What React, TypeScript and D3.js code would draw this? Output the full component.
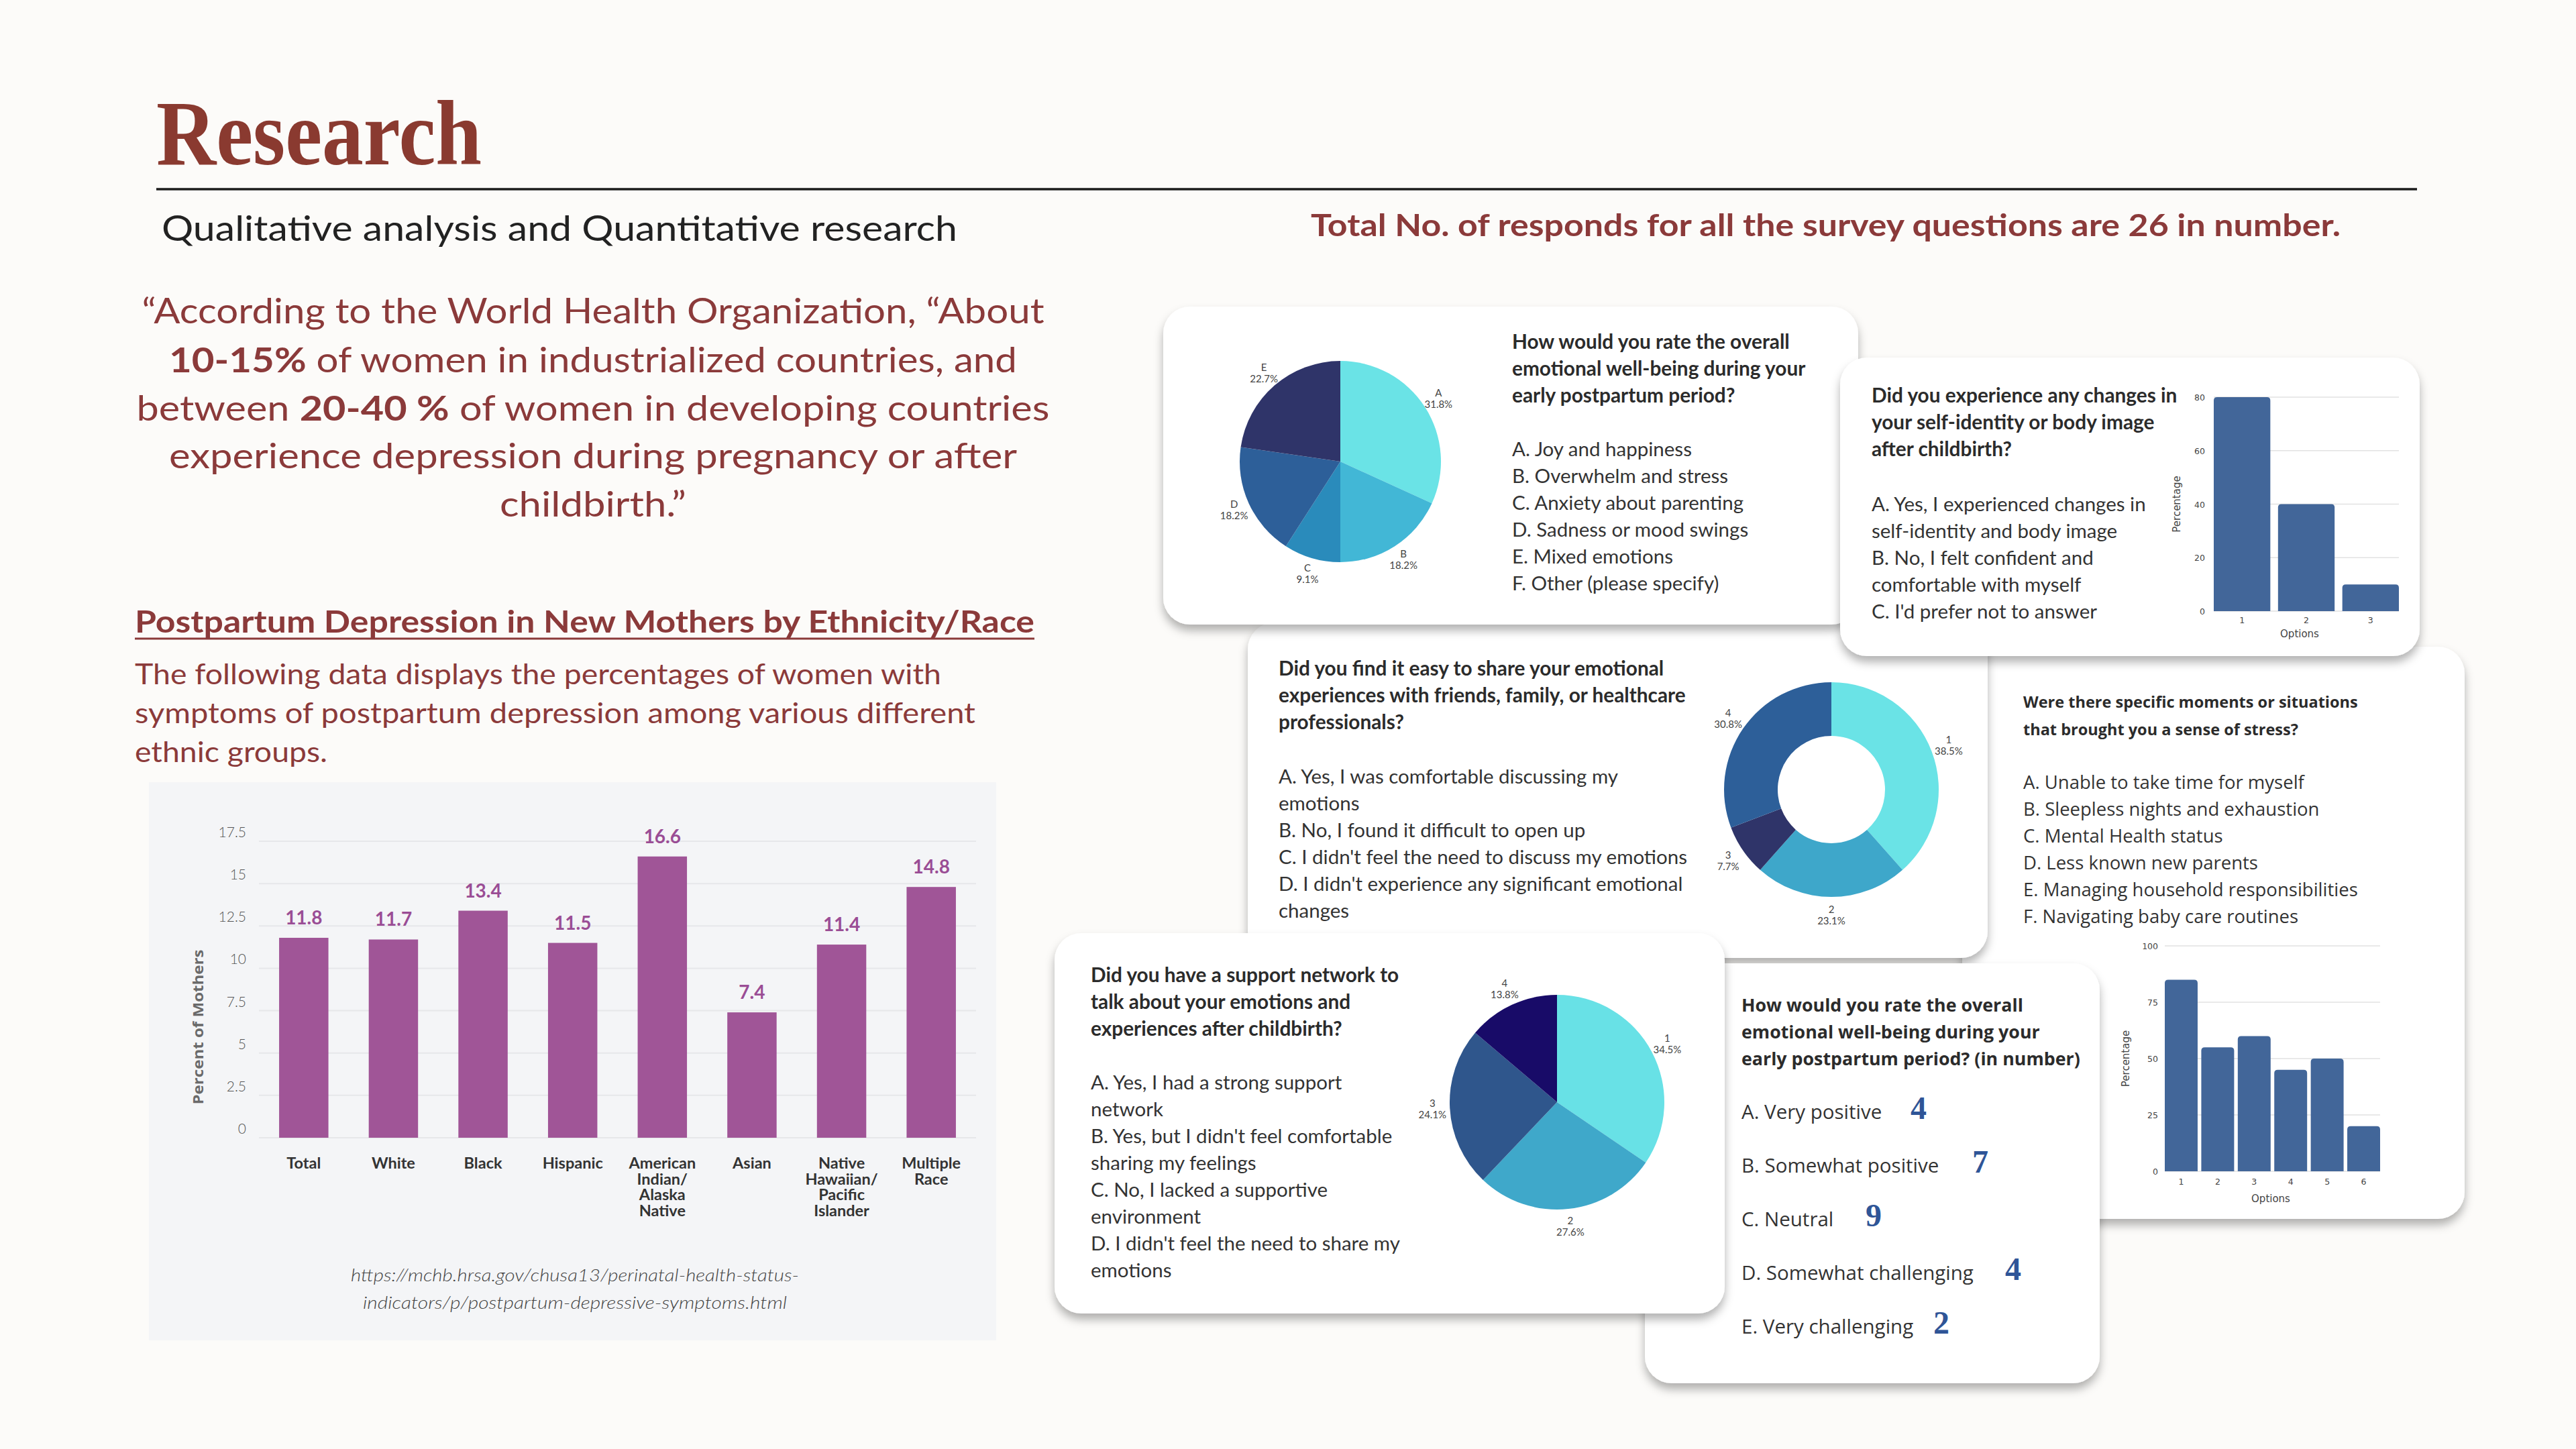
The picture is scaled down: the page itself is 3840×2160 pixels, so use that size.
import React from "react";
import * as d3 from "d3";

// ---------- Left bar chart data ----------
const ethnicityCategories = ["Total", "White", "Black", "Hispanic", "American Indian/Alaska Native", "Asian", "Native Hawaiian/Pacific Islander", "Multiple Race"];
const ethnicityLabelLines = [["Total"], ["White"], ["Black"], ["Hispanic"], ["American", "Indian/", "Alaska", "Native"], ["Asian"], ["Native", "Hawaiian/", "Pacific", "Islander"], ["Multiple", "Race"]];
const ethnicityValues = [11.8, 11.7, 13.4, 11.5, 16.6, 7.4, 11.4, 14.8];
const ethnicityTicks = [0, 2.5, 5, 7.5, 10, 12.5, 15, 17.5];

// ---------- Card 1: pie ----------
const wellbeingLabels = ["A", "B", "C", "D", "E"];
const wellbeingValues = [31.8, 18.2, 9.1, 18.2, 22.7];
const wellbeingColors = ["#6ae3e6", "#42b7d6", "#2a8bbb", "#2d5f99", "#2f3469"];
const wellbeingQuestion = ["How would you rate the overall", "emotional well-being during your", "early postpartum period?"];
const wellbeingOptions = ["A. Joy and happiness", "B. Overwhelm and stress", "C. Anxiety about parenting", "D. Sadness or mood swings", "E. Mixed emotions", "F. Other (please specify)"];

// ---------- Card 2: bar ----------
const identityOptions = ["1", "2", "3"];
const identityValues = [80, 40, 10];
const identityTicks = [0, 20, 40, 60, 80];
const identityQuestion = ["Did you experience any changes in", "your self-identity or body image", "after childbirth?"];
const identityAnswers = ["A. Yes, I experienced changes in", "self-identity and body image", "B. No, I felt confident and", "comfortable with myself", "C. I'd prefer not to answer"];

// ---------- Card 3: donut ----------
const shareLabels = ["1", "2", "3", "4"];
const shareValues = [38.5, 23.1, 7.7, 30.8];
const shareColors = ["#6ae3e6", "#3ea7ca", "#2f3469", "#2d5f99"];
const shareQuestion = ["Did you find it easy to share your emotional", "experiences with friends, family, or healthcare", "professionals?"];
const shareAnswers = ["A. Yes, I was comfortable discussing my", "emotions", "B. No, I found it difficult to open up", "C. I didn't feel the need to discuss my emotions", "D. I didn't experience any significant emotional", "changes"];

// ---------- Card 4: stress bars ----------
const stressOptions = ["1", "2", "3", "4", "5", "6"];
const stressValues = [85, 55, 60, 45, 50, 20];
const stressTicks = [0, 25, 50, 75, 100];
const stressQuestion = ["Were there specific moments or situations", "that brought you a sense of stress?"];
const stressAnswers = ["A. Unable to take time for myself", "B. Sleepless nights and exhaustion", "C. Mental Health status", "D. Less known new parents", "E. Managing household responsibilities", "F. Navigating baby care routines"];

// ---------- Card 5: support pie ----------
const supportLabels = ["1", "2", "3", "4"];
const supportValues = [34.5, 27.6, 24.1, 13.8];
const supportColors = ["#68e1e6", "#3fa8ca", "#2f568c", "#180b68"];
const supportQuestion = ["Did you have a support network to", "talk about your emotions and", "experiences after childbirth?"];
const supportAnswers = ["A. Yes, I had a strong support", "network", "B. Yes, but I didn't feel comfortable", "sharing my feelings", "C. No, I lacked a supportive", "environment", "D. I didn't feel the need to share my", "emotions"];

// ---------- Card 6: counts ----------
const ratingQuestion = ["How would you rate the overall", "emotional well-being during your", "early postpartum period? (in number)"];
const ratingOptions = ["A. Very positive", "B. Somewhat positive", "C. Neutral", "D. Somewhat challenging", "E. Very challenging"];
const ratingCounts = [4, 7, 9, 4, 2];
const ratingNumberOffsets = [252, 344, 185, 393, 286];

const BROWN = "#8b3a3a";
const CARD_FONT = "Lato, 'Open Sans', sans-serif";
const WIDE_FONT = "'Open Sans', 'Noto Sans', sans-serif";
const CHART_FONT = "'DejaVu Sans', Verdana, sans-serif";
const Q_SIZE = 29.8;
const A_SIZE = 29.5;

function topRounded(x: number, y: number, w: number, h: number, r: number) {
  const rr = Math.min(r, w / 2, h);
  return `M${x},${y + h}V${y + rr}Q${x},${y} ${x + rr},${y}H${x + w - rr}Q${x + w},${y} ${x + w},${y + rr}V${y + h}Z`;
}

function Lines({ lines, x, y, lh, size, weight = 400, fill = "#2b2b2b", family = CARD_FONT }: any) {
  return (
    <text fontFamily={family} fontSize={size} fontWeight={weight} fill={fill}>
      {lines.map((l: string, i: number) => (
        <tspan key={i} x={x} y={y + i * lh}>{l}</tspan>
      ))}
    </text>
  );
}

function Card({ x, y, w, h }: any) {
  return <rect x={x} y={y} width={w} height={h} rx={40} ry={40} fill="#ffffff" filter="url(#cardShadow)" />;
}

function PieChart({ cx, cy, r, inner = 0, labels, values, colors, labelR }: any) {
  const pie = d3.pie<number>().sort(null).value((d) => d);
  const arcs = pie(values);
  const arc = d3.arc<d3.PieArcDatum<number>>().innerRadius(inner).outerRadius(r);
  return (
    <g transform={`translate(${cx},${cy})`}>
      {arcs.map((a, i) => (
        <path key={i} d={arc(a) || ""} fill={colors[i]} />
      ))}
      {arcs.map((a, i) => {
        const m = (a.startAngle + a.endAngle) / 2;
        const lx = Math.sin(m) * labelR;
        const ly = -Math.cos(m) * labelR;
        return (
          <text key={"l" + i} textAnchor="middle" fontFamily={CARD_FONT} fontSize={15} fill="#444">
            <tspan x={lx} y={ly - 3}>{labels[i]}</tspan>
            <tspan x={lx} y={ly + 14}>{values[i].toFixed(1) + "%"}</tspan>
          </text>
        );
      })}
    </g>
  );
}

function SmallBars({ options, values, ticks, x0, x1, yTop, yBottom, maxV, pad, tickX, titleX, optY, optLabelY, optLabelX }: any) {
  const xs = d3.scaleBand<string>().domain(options).range([x0, x1]).paddingInner(pad).paddingOuter(0);
  const ys = d3.scaleLinear().domain([0, maxV]).range([yBottom, yTop]);
  return (
    <g>
      {ticks.map((t: number) => (
        <g key={t}>
          <line x1={x0} x2={x1} y1={ys(t)} y2={ys(t)} stroke="#e2e2e2" strokeWidth={1.5} />
          <text x={tickX} y={ys(t) + 5} textAnchor="end" fontFamily={CHART_FONT} fontSize={12.5} fill="#444">{t}</text>
        </g>
      ))}
      {options.map((o: string, i: number) => {
        const bx = xs(o) as number;
        const bw = xs.bandwidth();
        return <path key={o} d={topRounded(bx, ys(values[i]), bw, yBottom - ys(values[i]), 5)} fill="#426699" />;
      })}
      {options.map((o: string) => (
        <text key={"t" + o} x={(xs(o) as number) + xs.bandwidth() / 2} y={optY} textAnchor="middle" fontFamily={CHART_FONT} fontSize={12.5} fill="#444">{o}</text>
      ))}
      <text x={optLabelX} y={optLabelY} textAnchor="middle" fontFamily={CHART_FONT} fontSize={15} fill="#444">Options</text>
      <text transform={`translate(${titleX},${(yTop + yBottom) / 2}) rotate(-90)`} textAnchor="middle" fontFamily={CHART_FONT} fontSize={15} fill="#444">Percentage</text>
    </g>
  );
}

export default function App() {
  const W = 3840;
  const H = 2160;

  const ethX = d3.scaleBand<string>().domain(ethnicityCategories).range([386, 1455]).paddingInner(0.45).paddingOuter(0.225);
  const ethY = d3.scaleLinear().domain([0, 17.5]).range([1696, 1254]);

  const quoteLines: any[] = [
    { parts: [["“According to the World Health Organization, “About", false]], y: 482, w: 1345 },
    { parts: [["10-15%", true], [" of women in industrialized countries, and", false]], y: 555, w: 1264 },
    { parts: [["between ", false], ["20-40 %", true], [" of women in developing countries", false]], y: 627, w: 1361 },
    { parts: [["experience depression during pregnancy or after", false]], y: 698, w: 1264 },
    { parts: [["childbirth.”", false]], y: 770, w: 278 },
  ];

  return (
    <svg width={W} height={H} viewBox={`0 0 ${W} ${H}`} style={{ position: "absolute", left: 0, top: 0, display: "block" }}>
      <defs>
        <filter id="cardShadow" x="-5%" y="-8%" width="110%" height="125%">
          <feDropShadow dx="0" dy="9" stdDeviation="7" floodColor="#000" floodOpacity="0.3" />
        </filter>
      </defs>
      <rect x={0} y={0} width={W} height={H} fill="#fcfbf9" />

      {/* Header */}
      <text x={233} y={245} fontFamily="'Liberation Serif', 'DejaVu Serif', serif" fontWeight={700} fontSize={137} fill="#8a3a30" textLength={485} lengthAdjust="spacingAndGlyphs">Research</text>
      <line x1={233} x2={3603} y1={282} y2={282} stroke="#1c1c1c" strokeWidth={3.5} />
      <text x={241} y={359} fontFamily={CARD_FONT} fontSize={53} fill="#222" textLength={1186} lengthAdjust="spacingAndGlyphs">Qualitative analysis and Quantitative research</text>
      <text x={1954} y={352} fontFamily={CARD_FONT} fontWeight={700} fontSize={46} fill={BROWN} textLength={1535} lengthAdjust="spacingAndGlyphs">Total No. of responds for all the survey questions are 26 in number.</text>

      {/* Quote */}
      {quoteLines.map((q, i) => (
        <text key={i} x={884} y={q.y} textAnchor="middle" fontFamily={CARD_FONT} fontSize={52} fill={BROWN} textLength={q.w} lengthAdjust="spacingAndGlyphs">
          {q.parts.map((p: any, j: number) => (
            <tspan key={j} fontWeight={p[1] ? 700 : 400}>{p[0]}</tspan>
          ))}
        </text>
      ))}

      {/* Section heading */}
      <text x={201} y={943} fontFamily={CARD_FONT} fontWeight={700} fontSize={46} fill={BROWN} textLength={1341} lengthAdjust="spacingAndGlyphs">Postpartum Depression in New Mothers by Ethnicity/Race</text>
      <line x1={201} x2={1542} y1={952} y2={952} stroke={BROWN} strokeWidth={3} />
      {[
        ["The following data displays the percentages of women with", 1020, 1202],
        ["symptoms of postpartum depression among various different", 1078, 1253],
        ["ethnic groups.", 1136, 287],
      ].map((l: any, i) => (
        <text key={i} x={201} y={l[1]} fontFamily={CARD_FONT} fontSize={42} fill={BROWN} textLength={l[2]} lengthAdjust="spacingAndGlyphs">{l[0]}</text>
      ))}

      {/* Left bar chart panel */}
      <rect x={222} y={1166} width={1263} height={832} fill="#f4f5f7" />
      {ethnicityTicks.map((t) => (
        <g key={t}>
          <line x1={386} x2={1455} y1={ethY(t)} y2={ethY(t)} stroke="#e6e7ea" strokeWidth={2} />
          <text x={367} y={ethY(t) - 6} textAnchor="end" fontFamily={CARD_FONT} fontWeight={300} fontSize={21} fill="#555">{t}</text>
        </g>
      ))}
      <text transform="translate(303,1531) rotate(-90)" textAnchor="middle" fontFamily={WIDE_FONT} fontWeight={700} fontSize={22} fill="#6a6a6a" textLength={231} lengthAdjust="spacingAndGlyphs">Percent of Mothers</text>
      {ethnicityCategories.map((c, i) => {
        const bx = ethX(c) as number;
        const bw = ethX.bandwidth();
        const top = ethY(ethnicityValues[i]);
        return (
          <g key={c}>
            <rect x={bx} y={top} width={bw} height={ethY(0) - top} fill="#a05597" />
            <text x={bx + bw / 2} y={top - 20} textAnchor="middle" fontFamily={CARD_FONT} fontWeight={700} fontSize={28} fill="#9a4d95">{ethnicityValues[i]}</text>
            <text textAnchor="middle" fontFamily={CARD_FONT} fontWeight={700} fontSize={23.5} fill="#333">
              {ethnicityLabelLines[i].map((l, j) => (
                <tspan key={j} x={bx + bw / 2} y={1742 + j * 23.5}>{l}</tspan>
              ))}
            </text>
          </g>
        );
      })}
      <text x={857} y={1910} textAnchor="middle" fontFamily={CARD_FONT} fontStyle="italic" fontWeight={300} fontSize={25} fill="#444" textLength={668} lengthAdjust="spacingAndGlyphs">https://mchb.hrsa.gov/chusa13/perinatal-health-status-</text>
      <text x={857} y={1951} textAnchor="middle" fontFamily={CARD_FONT} fontStyle="italic" fontWeight={300} fontSize={25} fill="#444" textLength={632} lengthAdjust="spacingAndGlyphs">indicators/p/postpartum-depressive-symptoms.html</text>

      {/* Card 4: stress (bottom-most) */}
      <Card x={2925} y={964} w={749} h={853} />
      <Lines lines={stressQuestion} x={3016} y={1055} lh={41} size={23.5} weight={700} family={WIDE_FONT} />
      <Lines lines={stressAnswers} x={3016} y={1176} lh={40} size={27.5} fill="#333" family={WIDE_FONT} />
      <SmallBars options={stressOptions} values={stressValues} ticks={stressTicks} x0={3227} x1={3548} yTop={1410} yBottom={1746} maxV={100} pad={0.1} tickX={3217} titleX={3174} optY={1766} optLabelX={3385} optLabelY={1792} />

      {/* Card 3: donut */}
      <Card x={1860} y={928} w={1103} h={500} />
      <Lines lines={shareQuestion} x={1906} y={1007} lh={40} size={Q_SIZE} weight={700} />
      <Lines lines={shareAnswers} x={1906} y={1168} lh={40} size={A_SIZE} fill="#333" />
      <PieChart cx={2730} cy={1177} r={160} inner={80} labels={shareLabels} values={shareValues} colors={shareColors} labelR={187} />

      {/* Card 1: wellbeing pie */}
      <Card x={1734} y={457} w={1036} h={474} />
      <Lines lines={wellbeingQuestion} x={2254} y={520} lh={40} size={Q_SIZE} weight={700} />
      <Lines lines={wellbeingOptions} x={2254} y={680} lh={40} size={A_SIZE} fill="#333" />
      <PieChart cx={1998} cy={688} r={150} labels={wellbeingLabels} values={wellbeingValues} colors={wellbeingColors} labelR={174} />

      {/* Card 2: identity bars */}
      <Card x={2743} y={533} w={864} h={445} />
      <Lines lines={identityQuestion} x={2790} y={600} lh={40} size={Q_SIZE} weight={700} />
      <Lines lines={identityAnswers} x={2790} y={762} lh={40} size={A_SIZE} fill="#333" />
      <SmallBars options={identityOptions} values={identityValues} ticks={identityTicks} x0={3300} x1={3576} yTop={592} yBottom={911} maxV={80} pad={0.12} tickX={3287} titleX={3250} optY={929} optLabelX={3428} optLabelY={950} />

      {/* Card 6: counts */}
      <Card x={2452} y={1436} w={678} h={626} />
      <Lines lines={ratingQuestion} x={2596} y={1508} lh={40} size={26.8} weight={700} family={WIDE_FONT} />
      {ratingOptions.map((o, i) => (
        <g key={o}>
          <text x={2596} y={1668 + i * 80} fontFamily={WIDE_FONT} fontSize={29.5} fill="#333">{o}</text>
          <text x={2596 + ratingNumberOffsets[i]} y={1668 + i * 80} fontFamily="'Liberation Serif', 'DejaVu Serif', serif" fontWeight={700} fontSize={48} fill="#2f5597">{ratingCounts[i]}</text>
        </g>
      ))}

      {/* Card 5: support pie (top-most) */}
      <Card x={1572} y={1391} w={999} h={567} />
      <Lines lines={supportQuestion} x={1626} y={1464} lh={40} size={Q_SIZE} weight={700} />
      <Lines lines={supportAnswers} x={1626} y={1624} lh={40} size={A_SIZE} fill="#333" />
      <PieChart cx={2321} cy={1643} r={160} labels={supportLabels} values={supportValues} colors={supportColors} labelR={186} />
    </svg>
  );
}
